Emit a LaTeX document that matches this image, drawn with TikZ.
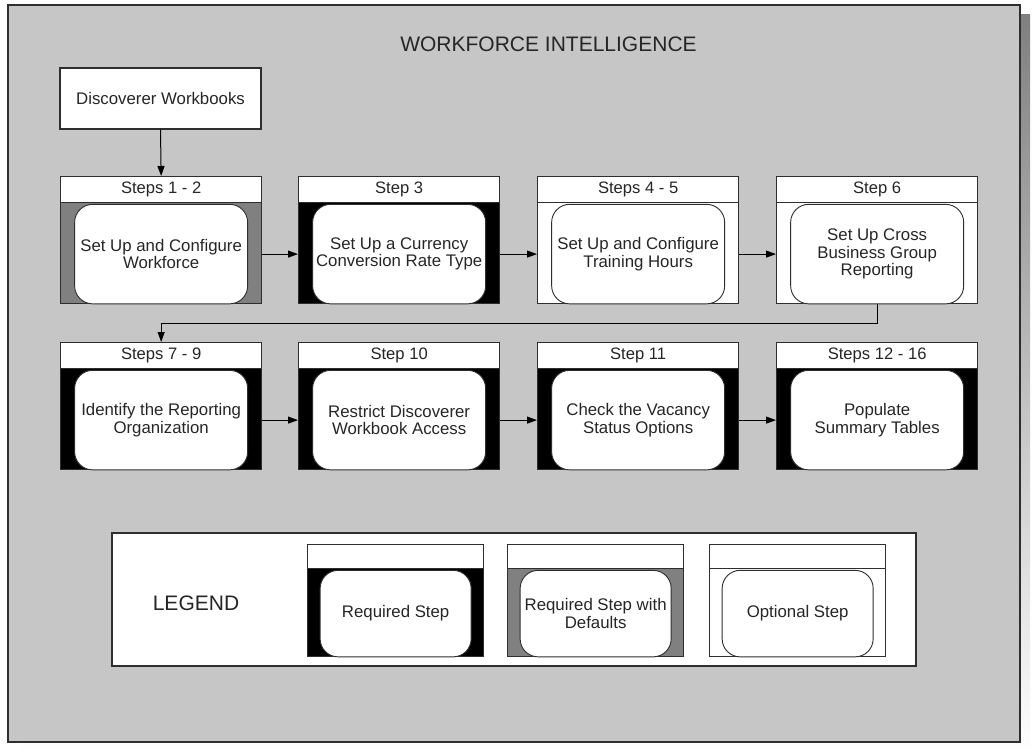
\documentclass[tikz,border=0pt]{standalone}
\usepackage{fontspec}
\setmainfont{Liberation Sans}
\usetikzlibrary{arrows.meta,calc}

\definecolor{panel}{HTML}{C6C6C6}
\definecolor{shade}{HTML}{848484}
\definecolor{midgray}{HTML}{808080}
\definecolor{edge}{HTML}{2E2E2E}
\definecolor{ink}{HTML}{262626}

\tikzset{
  stepframe/.style={draw=edge, line width=1.3pt, rectangle, inner sep=0pt},
  stephead/.style={draw=edge, line width=1.3pt, fill=white, rectangle, inner sep=0pt,
    text=ink, font=\fontsize{16.6}{18}\selectfont},
  steptask/.style={draw=edge, line width=0.9pt, fill=white, rounded corners=18pt,
    inner sep=0pt, align=center, text=ink, font=\fontsize{16.8}{17.5}\selectfont},
  plainbox/.style={draw=edge, line width=1.3pt, fill=white, rectangle, inner sep=0pt,
    text=ink, font=\fontsize{16.8}{18}\selectfont},
  flow/.style={draw=black, line width=1pt, -{Triangle[length=10pt,width=7pt]}},
}

% side inset of the rounded task inside a step frame
\def\taskinset{14}

% #1 name, #2 left, #3 top, #4 width, #5 height, #6 header height,
% #7 side fill, #8 header text, #9 task text
\newcommand{\wfstep}[9]{%
  \node[stepframe, fill=#7, minimum width=#4pt, minimum height=#5pt, anchor=north west] (#1) at (#2,#3) {};
  \node[stephead, minimum width=#4pt, minimum height=#6pt, anchor=north west] (#1-h) at (#2,#3) {#8};
  \node[steptask, minimum width={#4pt-2*\taskinset pt}, minimum height={#5pt-#6pt-1.5pt}, anchor=north]
    (#1-b) at ([yshift=-0.6pt]#1-h.south) {#9};
}

\begin{document}
\begin{tikzpicture}[x=1pt, y=-1pt]
  \useasboundingbox (0,0) rectangle (1032,749);
  \fill[white] (0,0) rectangle (1032,749);

  % outer panel with its drop shadow
  \fill[shade] (18,15) rectangle (1030,752);
  \draw[edge, line width=1.3pt, fill=panel] (8,5) rectangle (1020,742);

  \node[text=ink, font=\fontsize{21}{24}\selectfont] (title) at (548.5,44) {WORKFORCE INTELLIGENCE};

  \node[plainbox, minimum width=201pt, minimum height=61pt] (disc) at (160.5,98.5) {Discoverer Workbooks};

  % first row
  \wfstep{s12}{60}{176}{201}{127}{26}{midgray}{Steps 1 - 2}{Set Up and Configure\\Workforce}
  \wfstep{s3}{298}{176}{201}{127}{26}{black}{Step 3}{Set Up a Currency\\Conversion Rate Type}
  \wfstep{s45}{537}{176}{201}{127}{26}{white}{Steps 4 - 5}{Set Up and Configure\\Training Hours}
  \wfstep{s6}{776}{176}{201}{127}{26}{white}{Step 6}{Set Up Cross\\Business Group\\Reporting}

  % second row
  \wfstep{s79}{60}{342}{201}{127}{26}{black}{Steps 7 - 9}{Identify the Reporting\\Organization}
  \wfstep{s10}{298}{342}{201}{127}{26}{black}{Step 10}{Restrict Discoverer\\Workbook Access}
  \wfstep{s11}{537}{342}{201}{127}{26}{black}{Step 11}{Check the Vacancy\\Status Options}
  \wfstep{s1216}{776}{342}{201}{127}{26}{black}{Steps 12 - 16}{Populate\\Summary Tables}

  % connectors
  \draw[flow] (disc.south) -- (s12.north);
  \draw[flow] (s12.east |- s12-b.center) -- (s3.west |- s12-b.center);
  \draw[flow] (s3.east |- s3-b.center) -- (s45.west |- s3-b.center);
  \draw[flow] (s45.east |- s45-b.center) -- (s6.west |- s45-b.center);
  \draw[flow] (s6.south) -- ++(0,19) -| (s79.north);
  \draw[flow] (s79.east |- s79-b.center) -- (s10.west |- s79-b.center);
  \draw[flow] (s10.east |- s10-b.center) -- (s11.west |- s10-b.center);
  \draw[flow] (s11.east |- s11-b.center) -- (s1216.west |- s11-b.center);

  % legend
  \node[plainbox, minimum width=804pt, minimum height=133pt] (legend) at (514,599.5) {};
  \node[text=ink, font=\fontsize{21}{24}\selectfont] (legendlabel) at (196,603) {LEGEND};
  \def\taskinset{12.5}
  \wfstep{lreq}{307}{544}{176}{112}{24}{black}{}{Required Step}
  \wfstep{ldef}{507}{544}{176}{112}{24}{midgray}{}{Required Step with\\Defaults}
  \wfstep{lopt}{709}{544}{176}{112}{24}{white}{}{Optional Step}
\end{tikzpicture}
\end{document}
